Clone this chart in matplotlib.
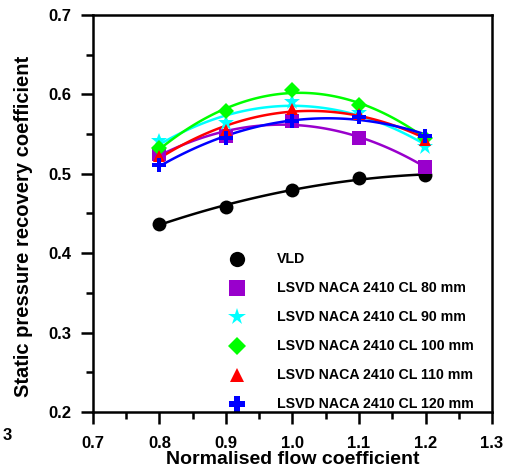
import matplotlib
matplotlib.use("Agg")
import matplotlib.pyplot as plt
import numpy as np
from matplotlib.ticker import MultipleLocator

plt.rcParams["font.family"] = ["Liberation Sans", "DejaVu Sans"]
plt.rcParams["font.weight"] = "bold"

flow = [0.8, 0.9, 1.0, 1.1, 1.2]
vld = [0.437, 0.458, 0.480, 0.495, 0.498]
cl80 = [0.525, 0.548, 0.567, 0.545, 0.508]
cl90 = [0.541, 0.564, 0.590, 0.577, 0.534]
cl100 = [0.532, 0.579, 0.606, 0.587, 0.545]
cl110 = [0.522, 0.555, 0.581, 0.575, 0.543]
cl120 = [0.511, 0.545, 0.567, 0.571, 0.548]

labels = [
    "VLD",
    "LSVD NACA 2410 CL 80 mm",
    "LSVD NACA 2410 CL 90 mm",
    "LSVD NACA 2410 CL 100 mm",
    "LSVD NACA 2410 CL 110 mm",
    "LSVD NACA 2410 CL 120 mm",
]
series = [vld, cl80, cl90, cl100, cl110, cl120]
colors = ["#000000", "#9900CC", "#00FFFF", "#00FF00", "#FF0000", "#0000FF"]
markers = ["o", "s", "*", "D", "^", "P"]
sizes = [10, 10, 12, 8, 9, 10]
legend_sizes = [11, 11, 13, 9, 10, 11]

fig = plt.figure(figsize=(5.05, 4.74), dpi=100)
ax = fig.add_axes([93 / 505, 1 - 412 / 474, 399 / 505, 397 / 474])

xs = np.linspace(0.8, 1.2, 100)
for values, color, marker, size in zip(series, colors, markers, sizes):
    fit = np.polyfit(flow, values, 2)
    ax.plot(xs, np.polyval(fit, xs), color=color, lw=1.8, zorder=2)
    ax.plot(flow, values, linestyle="none", marker=marker, color=color,
            markersize=size, markeredgewidth=0, zorder=3)

ax.set_xlim(0.7, 1.3)
ax.set_ylim(0.2, 0.7)
ax.xaxis.set_major_locator(MultipleLocator(0.1))
ax.xaxis.set_minor_locator(MultipleLocator(0.05))
ax.yaxis.set_major_locator(MultipleLocator(0.1))
ax.yaxis.set_minor_locator(MultipleLocator(0.05))
ax.tick_params(which="major", direction="out", length=8.5, width=1.8, labelsize=12)
ax.tick_params(which="minor", direction="out", length=5, width=1.8)
ax.tick_params(axis="x", pad=9)
ax.tick_params(axis="y", pad=7)
for spine in ax.spines.values():
    spine.set_linewidth(1.8)
for lab in ax.get_xticklabels() + ax.get_yticklabels():
    lab.set_fontweight("bold")

ax.set_xlabel("Normalised flow coefficient", fontsize=14, fontweight="bold", labelpad=0)
ax.set_ylabel("Static pressure recovery coefficient", fontsize=14.5, fontweight="bold")
ax.yaxis.set_label_coords(-0.150, 0.468)

# hand-placed legend, rows in figure pixels
for i, (color, marker, size, label) in enumerate(zip(colors, markers, legend_sizes, labels)):
    row_y = (412 - (259 + 29 * i)) / 397
    ax.plot([(237 - 93) / 399], [row_y], transform=ax.transAxes, linestyle="none",
            marker=marker, color=color, markersize=size, markeredgewidth=0, clip_on=False)
    ax.text((277 - 93) / 399, row_y, label, transform=ax.transAxes, fontsize=10.2,
            fontweight="bold", va="center", ha="left")

fig.text(3 / 505, 1 - 436 / 474, "3", fontsize=12, fontweight="bold", va="center")

fig.savefig("out.png", dpi=100)
